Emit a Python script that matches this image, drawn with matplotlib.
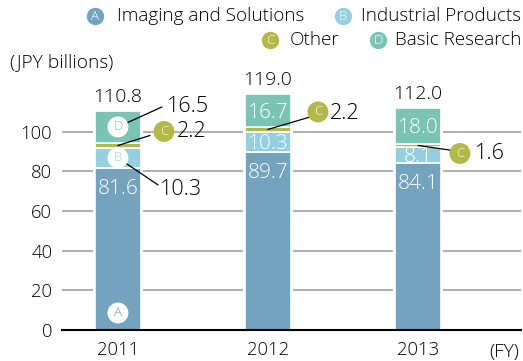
import matplotlib
matplotlib.use("Agg")
import matplotlib.pyplot as plt
import numpy as np

plt.rcParams['font.family'] = ['Open Sans', 'DejaVu Sans']
plt.rcParams['font.weight'] = 'light'

# Data (JPY billions)
years = ["2011", "2012", "2013"]
imaging = [81.6, 89.7, 84.1]
industrial = [10.3, 10.3, 8.1]
other = [2.2, 2.2, 1.6]
basic = [16.5, 16.7, 18.0]
totals = [110.8, 119.0, 112.0]

series_names = ["Imaging and Solutions", "Industrial Products", "Other", "Basic Research"]
letters = ["A", "B", "C", "D"]
colors = ["#74a3be", "#96cfe0", "#b3b84a", "#7bc4b5"]
yticks = [0, 20, 40, 60, 80, 100]

W, H = 523, 361
fig = plt.figure(figsize=(W / 100, H / 100), dpi=100)
ax = fig.add_axes([62 / W, 1 - 330 / H, (521 - 62) / W, (330 - 82) / H])

x = np.arange(len(years))
bw = 0.307

# grid, interrupted around bars by white backing bars
for t in yticks[1:]:
    ax.axhline(t, color="#a8a8a8", lw=1.3, zorder=1)
ax.bar(x, totals, width=bw + 0.03, color="white", zorder=2)

stack = [imaging, industrial, other, basic]
bottoms = np.zeros(len(years))
seg_bottoms = []
for vals, c in zip(stack, colors):
    vals = np.array(vals)
    ax.bar(x, vals, bottom=bottoms, width=bw, color=c, edgecolor="white",
           linewidth=1.2, zorder=3)
    seg_bottoms.append(bottoms.copy())
    bottoms = bottoms + vals

ax.set_xlim(-0.373, 2.687)
ax.set_ylim(0, 125)
ax.set_yticks(yticks)
ax.set_xticks(x)
ax.set_xticklabels(years, fontsize=13.3)
ax.tick_params(axis="y", length=0, pad=7, labelsize=13.3)
ax.tick_params(axis="x", length=0, pad=8)
for s in ["top", "left", "right"]:
    ax.spines[s].set_visible(False)
ax.spines["bottom"].set_linewidth(1.5)
ax.spines["bottom"].set_zorder(6)

def badge(xy, letter, face, fg, offset=(0, 0)):
    ax.annotate(letter, xy=xy, xytext=offset, textcoords="offset pixels",
                ha="center", va="center", fontsize=9.5, color=fg, zorder=8,
                bbox=dict(boxstyle="circle,pad=0.3", fc=face, ec="none"))

def mid(i, k):
    return seg_bottoms[k][i] + stack[k][i] / 2

# totals above bars
for i, t in enumerate(totals):
    ax.annotate(f"{t:.1f}", xy=(x[i], bottoms[i]), xytext=(0, 14),
                textcoords="offset pixels", ha="center", va="center", fontsize=14)

# values inside the Imaging segment
for i, v in enumerate(imaging):
    ax.annotate(f"{v:.1f}", xy=(x[i], imaging[i]), xytext=(0, -21),
                textcoords="offset pixels", ha="center", va="center",
                fontsize=15, color="white", zorder=7)

# values inside Industrial / Basic segments for 2012 and 2013
for i in [1, 2]:
    for k in [1, 3]:
        ax.annotate(f"{stack[k][i]:.1f}", xy=(x[i], mid(i, k)), xytext=(0, -2),
                    textcoords="offset pixels", ha="center", va="center",
                    fontsize=15, color="white", zorder=7)

# 2011 badges inside the bar
badge((x[0], 0), "A", "white", colors[0], offset=(0, 17))
badge((x[0], mid(0, 1)), "B", "white", colors[1])
badge((x[0], mid(0, 3)), "D", "white", colors[3])

line_kw = dict(arrowstyle="-", color="black", lw=0.9, shrinkA=0, shrinkB=0)

# 2011 leaders
ax.annotate("", xy=(x[0], mid(0, 3)), xytext=(44, 20), textcoords="offset pixels",
            arrowprops=line_kw, zorder=7)
ax.annotate(f"{basic[0]:.1f}", xy=(x[0], mid(0, 3)), xytext=(49, 20),
            textcoords="offset pixels", ha="left", va="center", fontsize=15.5)
ax.annotate("", xy=(x[0], mid(0, 1)), xytext=(40, -27), textcoords="offset pixels",
            arrowprops=line_kw, zorder=7)
ax.annotate(f"{industrial[0]:.1f}", xy=(x[0], mid(0, 1)), xytext=(42, -32),
            textcoords="offset pixels", ha="left", va="center", fontsize=15.5)

# "Other" leaders: (line end, badge, text) offsets in pixels
other_leaders = [((32, 10), (46, 14), (59, 14)),
                 ((44, 13), (50, 17.5), (62, 16)),
                 ((35, -5), (42, -8), (57, -8))]
for i, (p1, pb, pt) in enumerate(other_leaders):
    y = mid(i, 2)
    ax.annotate("", xy=(x[i], y), xytext=p1, textcoords="offset pixels",
                arrowprops=line_kw, zorder=7)
    badge((x[i], y), "C", colors[2], "white", offset=pb)
    ax.annotate(f"{other[i]:.1f}", xy=(x[i], y), xytext=pt,
                textcoords="offset pixels", ha="left", va="center", fontsize=15.5)

# overlay for legend and free text (pixel coordinates)
ov = fig.add_axes([0, 0, 1, 1], zorder=10)
ov.set_xlim(0, W)
ov.set_ylim(H, 0)
ov.axis("off")
ov.patch.set_alpha(0)

# legend: (circle x, circle y, text x, text alignment)
legend_pos = [(95, 16, 117, "left"), (343, 16, 521, "right"),
              (270, 40, 290, "left"), (378, 40, 521, "right")]
for (lx, ly, tx, ha), name, letter, c in zip(legend_pos, series_names, letters, colors):
    ov.plot(lx, ly, "o", ms=12.5, color=c, mec="none")
    ov.text(lx, ly + 0.5, letter, ha="center", va="center", fontsize=9.5, color="white")
    ov.text(tx, ly, name, ha=ha, va="center", fontsize=13.6)

ov.text(10, 62, "(JPY billions)", ha="left", va="center", fontsize=13.8)
ov.text(519, 352, "(FY)", ha="right", va="center", fontsize=13.8)

fig.savefig("out.png", dpi=100)
